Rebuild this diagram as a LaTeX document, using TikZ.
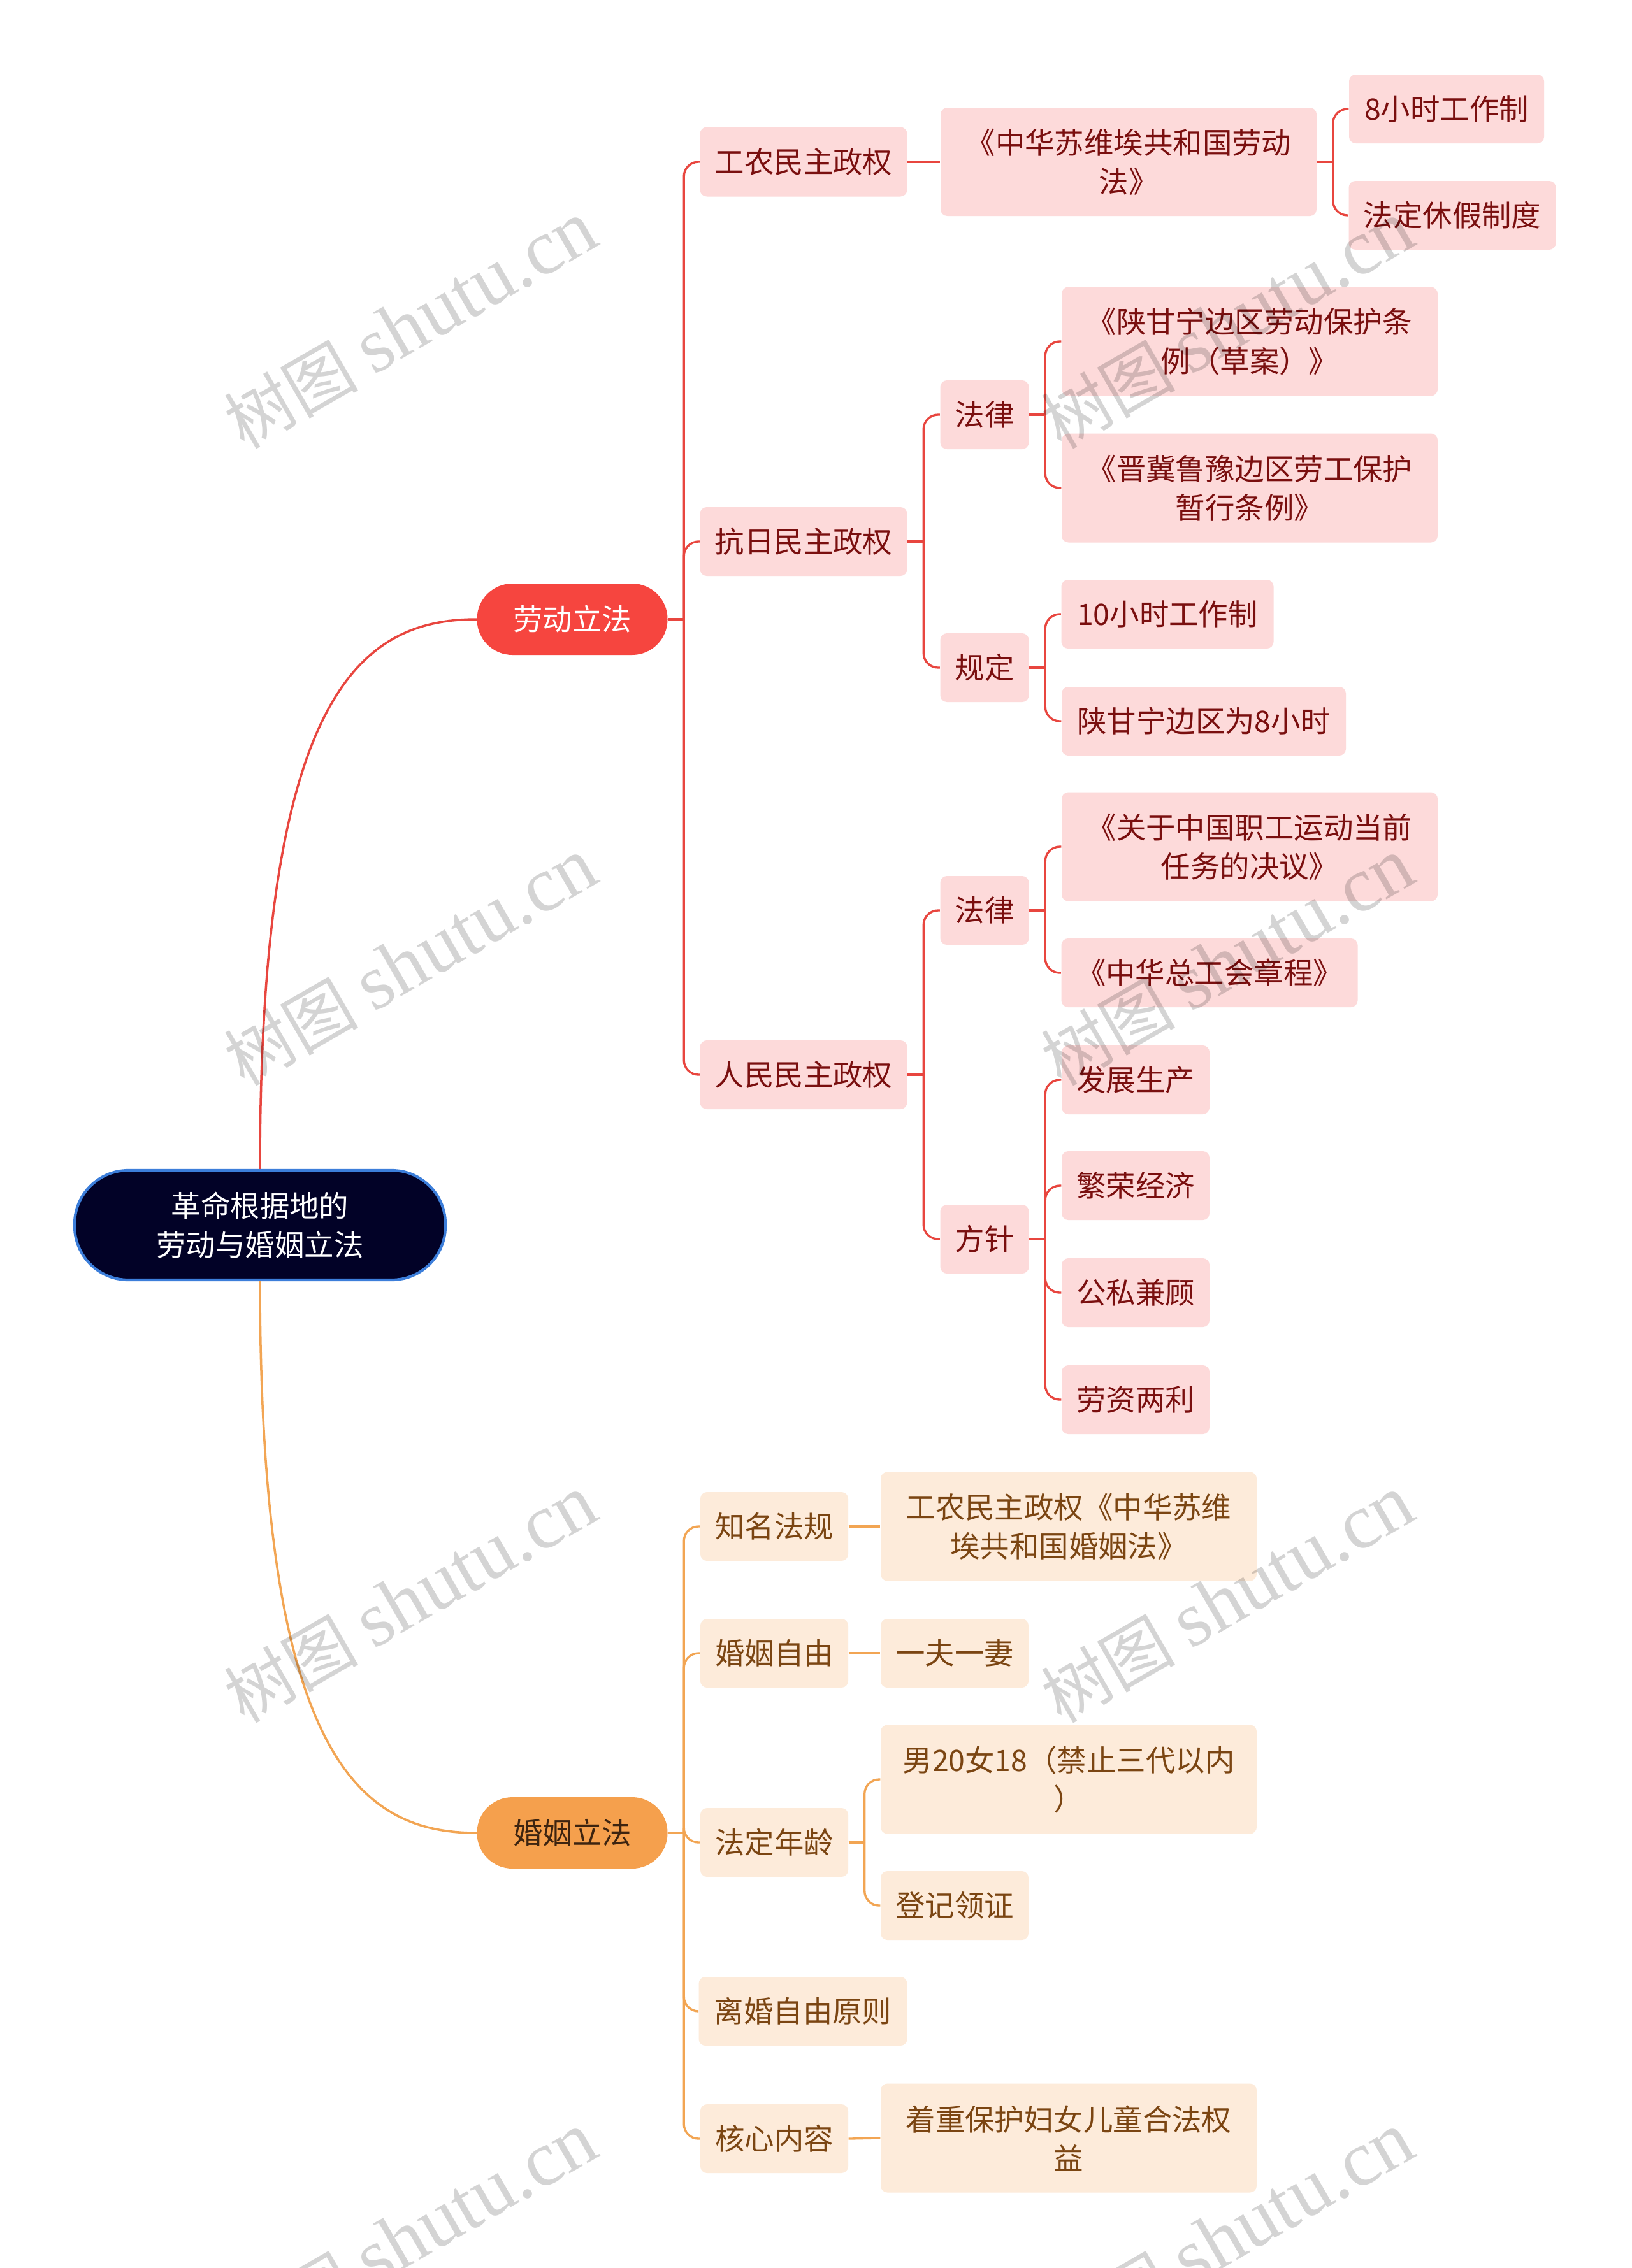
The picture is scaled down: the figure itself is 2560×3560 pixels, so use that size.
\documentclass[tikz,border=0pt]{standalone}
\usepackage{fontspec}
\newfontfamily\cjk{Noto Sans CJK SC}
\newfontfamily\wmserif{Liberation Serif}
\definecolor{labline}{HTML}{E8463F}
\definecolor{labl1}{HTML}{F6453F}
\definecolor{labfill}{HTML}{FDDADA}
\definecolor{labtext}{HTML}{7A0F0F}
\definecolor{marline}{HTML}{F2A553}
\definecolor{marl1}{HTML}{F5A04D}
\definecolor{marl1text}{HTML}{3D2410}
\definecolor{marfill}{HTML}{FDEBDA}
\definecolor{martext}{HTML}{7B4512}
\definecolor{rootfill}{HTML}{020227}
\definecolor{rootdraw}{HTML}{3C7EDA}
\newcommand\linkto[3]{%
  \draw[#1] (#2.east) -- ++(25,0) coordinate (bus);
  \draw[#1, rounded corners=6.5pt] (bus) |- (#3.west);}
\begin{document}
\begin{tikzpicture}[x=0.01cm,y=-0.01cm,
  wh/.style 2 args={minimum width=#1*0.01cm, minimum height=#2*0.01cm},
  base/.style={inner sep=0pt, align=center, font=\cjk\fontsize{13.2pt}{17.4pt}\selectfont},
  lbox/.style={base, fill=labfill, text=labtext, rounded corners=3pt},
  mbox/.style={base, fill=marfill, text=martext, rounded corners=3pt},
  rootbox/.style={base, fill=rootfill, draw=rootdraw, line width=1.2pt, text=white, rounded corners=24pt},
  l1lab/.style={base, fill=labl1, text=white, rounded corners=15.8pt},
  l1mar/.style={base, fill=marl1, text=marl1text, rounded corners=15.8pt},
  lline/.style={draw=labline, line width=0.95pt},
  mline/.style={draw=marline, line width=0.95pt},
  wm/.style={rotate=30, font=\cjk\fontsize{30pt}{30pt}\selectfont, text=black, text opacity=0.17, inner sep=0pt}
]
\fill[white] (0,0) rectangle (2560,3560);
\useasboundingbox (0,0) rectangle (2560,3560);

% root and level 1
\node[rootbox, wh={582}{172}] (root) at (408,1923) {革命根据地的\\劳动与婚姻立法};
\node[l1lab, wh={299}{112}] (lab) at (898,972) {劳动立法};
\node[l1mar, wh={299}{112}] (mar) at (898,2877) {婚姻立法};

% labour branch
\node[lbox, wh={325}{109}] (gn) at (1261,254) {工农民主政权};
\node[lbox, wh={325}{108}] (kr) at (1261,850) {抗日民主政权};
\node[lbox, wh={325}{108}] (rm) at (1261,1687) {人民民主政权};
\node[lbox, wh={590}{170}] (gnlaw) at (1771,254) {《中华苏维埃共和国劳动\\法》};
\node[lbox, wh={306}{108}] (h8) at (2270,171) {8小时工作制};
\node[lbox, wh={325}{108}] (fd) at (2279,338) {法定休假制度};
\node[lbox, wh={139}{108}] (kr1) at (1545,651) {法律};
\node[lbox, wh={139}{108}] (kr2) at (1545,1048) {规定};
\node[lbox, wh={590}{171}] (sg) at (1961,536) {《陕甘宁边区劳动保护条\\例（草案）》};
\node[lbox, wh={590}{171}] (jj) at (1961,766) {《晋冀鲁豫边区劳工保护\\暂行条例》};
\node[lbox, wh={333}{108}] (h10) at (1832,964) {10小时工作制};
\node[lbox, wh={446}{108}] (sg8) at (1889,1132) {陕甘宁边区为8小时};
\node[lbox, wh={139}{108}] (rm1) at (1545,1429) {法律};
\node[lbox, wh={139}{108}] (rm2) at (1545,1945) {方针};
\node[lbox, wh={590}{171}] (jy) at (1961,1329) {《关于中国职工运动当前\\任务的决议》};
\node[lbox, wh={465}{108}] (zh) at (1898,1527) {《中华总工会章程》};
\node[lbox, wh={232}{108}] (f1) at (1782,1695) {发展生产};
\node[lbox, wh={232}{108}] (f2) at (1782,1861) {繁荣经济};
\node[lbox, wh={232}{108}] (f3) at (1782,2029) {公私兼顾};
\node[lbox, wh={232}{108}] (f4) at (1782,2197) {劳资两利};

% marriage branch
\node[mbox, wh={232}{108}] (zm) at (1215,2396) {知名法规};
\node[mbox, wh={232}{108}] (hy) at (1215,2595) {婚姻自由};
\node[mbox, wh={232}{108}] (fn) at (1215,2892) {法定年龄};
\node[mbox, wh={327}{108}] (lh) at (1260,3157) {离婚自由原则};
\node[mbox, wh={232}{108}] (hx) at (1215,3357) {核心内容};
\node[mbox, wh={590}{171}] (hyf) at (1677,2396) {工农民主政权《中华苏维\\埃共和国婚姻法》};
\node[mbox, wh={232}{108}] (yf) at (1498,2595) {一夫一妻};
\node[mbox, wh={590}{171}] (n20) at (1677,2793) {男20女18（禁止三代以内\\）};
\node[mbox, wh={232}{108}] (dj) at (1498,2991) {登记领证};
\node[mbox, wh={590}{171}] (zz) at (1677,3356) {着重保护妇女儿童合法权\\益};

% root connectors
\draw[lline, line width=1pt] (root.north) .. controls (408,1100) and (560,972) .. (lab.west);
\draw[mline, line width=1pt] (root.south) .. controls (408,2750) and (560,2877) .. (mar.west);

% labour connectors
\linkto{lline}{lab}{gn}
\linkto{lline}{lab}{kr}
\linkto{lline}{lab}{rm}
\draw[lline] (gn.east) -- (gnlaw.west);
\linkto{lline}{gnlaw}{h8}
\linkto{lline}{gnlaw}{fd}
\linkto{lline}{kr}{kr1}
\linkto{lline}{kr}{kr2}
\linkto{lline}{kr1}{sg}
\linkto{lline}{kr1}{jj}
\linkto{lline}{kr2}{h10}
\linkto{lline}{kr2}{sg8}
\linkto{lline}{rm}{rm1}
\linkto{lline}{rm}{rm2}
\linkto{lline}{rm1}{jy}
\linkto{lline}{rm1}{zh}
\linkto{lline}{rm2}{f1}
\linkto{lline}{rm2}{f2}
\linkto{lline}{rm2}{f3}
\linkto{lline}{rm2}{f4}

% marriage connectors
\linkto{mline}{mar}{zm}
\linkto{mline}{mar}{hy}
\linkto{mline}{mar}{fn}
\linkto{mline}{mar}{lh}
\linkto{mline}{mar}{hx}
\draw[mline] (zm.east) -- (hyf.west);
\draw[mline] (hy.east) -- (yf.west);
\linkto{mline}{fn}{n20}
\linkto{mline}{fn}{dj}
\draw[mline] (hx.east) -- (zz.west);

% watermarks
\foreach \wx in {644,1926} {
  \foreach \wy in {510,1510,2510,3510} {
    \node[wm] (wm-\wx-\wy) at (\wx,\wy) {树图 {\wmserif\fontsize{35pt}{35pt}\selectfont shutu.cn}};
  }
}
\end{tikzpicture}
\end{document}
